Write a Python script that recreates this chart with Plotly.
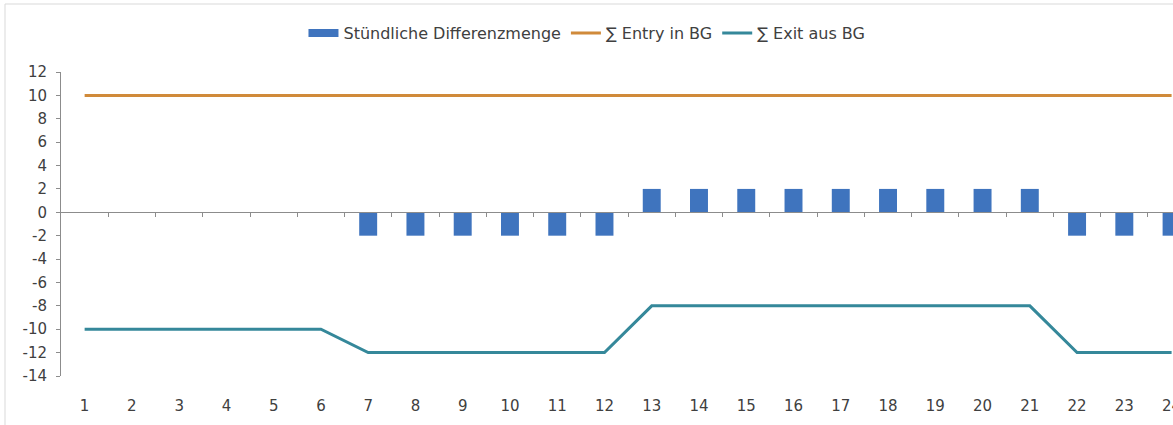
import plotly.graph_objects as go

hours = list(range(1, 25))
diff = [0, 0, 0, 0, 0, 0, -2, -2, -2, -2, -2, -2, 2, 2, 2, 2, 2, 2, 2, 2, 2, -2, -2, -2]
entry = [10] * 24
exit_ = [-10, -10, -10, -10, -10, -10, -12, -12, -12, -12, -12, -12,
         -8, -8, -8, -8, -8, -8, -8, -8, -8, -12, -12, -12]
y_ticks = list(range(-14, 13, 2))

FONT = "DejaVu Sans"
TXT = "#404040"
BLUE = "#3F74BE"
XMAX = 24.03

fig = go.Figure()
# legend proxy for the bar series (wide rectangle swatch like the original)
fig.add_trace(go.Scatter(x=[None], y=[None], name="Stündliche Differenzmenge", mode="lines",
                         line=dict(color=BLUE, width=8), hoverinfo="skip"))
fig.add_trace(go.Bar(x=hours, y=diff, name="Stündliche Differenzmenge", showlegend=False,
                     marker=dict(color=BLUE, line=dict(width=0)), width=0.38))
fig.add_trace(go.Scatter(x=hours, y=entry, name="∑ Entry in BG", mode="lines",
                         line=dict(color="#D08A3A", width=3)))
fig.add_trace(go.Scatter(x=hours, y=exit_, name="∑ Exit aus BG", mode="lines",
                         line=dict(color="#35889A", width=3), xaxis="x2"))

fig.update_layout(
    width=1173, height=425,
    margin=dict(l=61, r=0, t=72, b=49),
    paper_bgcolor="white", plot_bgcolor="white",
    font=dict(family=FONT, size=15, color=TXT),
    showlegend=True,
    legend=dict(orientation="h", x=0.473, xanchor="center", y=1.128, yanchor="middle",
                font=dict(family=FONT, size=16, color=TXT), itemwidth=30,
                traceorder="normal", bgcolor="rgba(0,0,0,0)"),
    bargap=0.6,
    xaxis=dict(range=[0.5, XMAX], tickvals=hours, ticktext=[str(h) for h in hours],
               showline=False, showgrid=False, zeroline=False, ticks="",
               ticklabeloverflow="allow", automargin=False,
               ticklabelstandoff=19, tickfont=dict(family=FONT, size=15, color=TXT)),
    xaxis2=dict(range=[0.5, XMAX], overlaying="x", anchor="free", position=14 / 26,
                side="bottom", showline=True, linecolor="#8C8C8C", linewidth=1,
                showgrid=False, zeroline=False, ticks="outside", ticklen=4,
                tickcolor="#8C8C8C", tickvals=[h + 0.5 for h in hours[:-1]],
                showticklabels=False, automargin=False),
    yaxis=dict(range=[-14, 12], tickvals=y_ticks, ticktext=[str(v) for v in y_ticks],
               showline=True, linecolor="#8C8C8C", linewidth=1, showgrid=False,
               zeroline=False, ticks="outside", ticklen=4, tickcolor="#8C8C8C",
               ticklabelstandoff=6, automargin=False,
               tickfont=dict(family=FONT, size=15, color=TXT)),
    shapes=[dict(type="rect", xref="paper", yref="paper",
                 x0=(5 - 61) / 1112, x1=1.2, y0=-0.3, y1=(376 - 4) / 304,
                 line=dict(color="#D9D9D9", width=1), fillcolor="rgba(0,0,0,0)",
                 layer="below")],
)

fig.write_html("out.html")
